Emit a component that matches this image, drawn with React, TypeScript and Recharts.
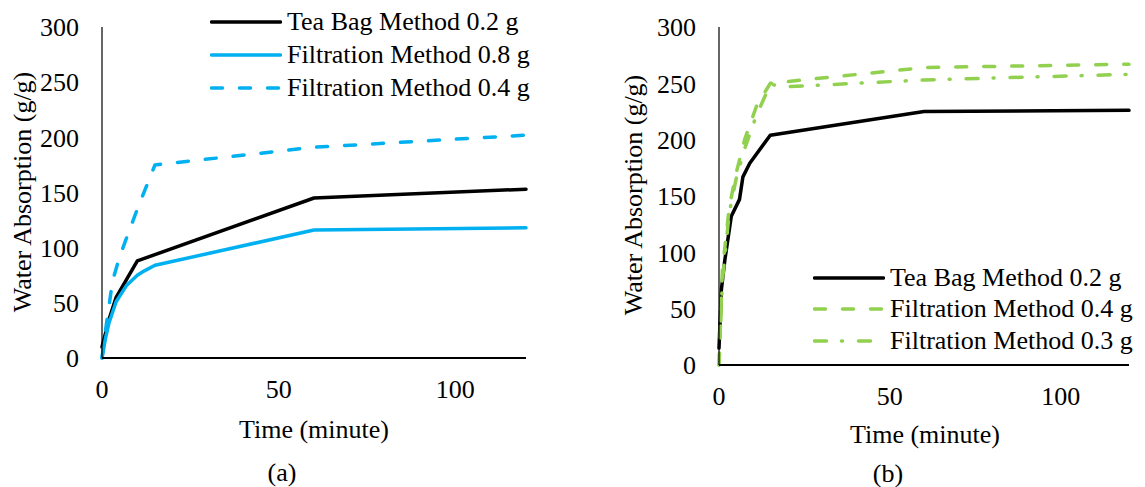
// Water absorption vs time: (a) tea bag vs filtration (blue), (b) tea bag vs filtration (green)
import React from 'react';
import { LineChart, Line, XAxis, YAxis } from 'recharts';

const FONT = "'Liberation Serif', 'Times New Roman', serif";

// ── chart (a) ──
const timeTeaA = [0, 2, 4, 10, 60, 120];
const teaA = [10, 35, 55, 88, 145, 153];
const timeFilt08A = [0, 1, 2, 4, 7, 10, 12, 15, 60, 120];
const filt08A = [0, 18, 32, 51, 66, 75, 79, 84, 116, 118];
const timeFilt04A = [0, 1, 3, 5, 10, 15, 60, 120];
const filt04A = [0, 25, 70, 92, 135, 175, 191, 202];

// ── chart (b) ──
const timeTeaB = [0, 0.7, 1.7, 3.6, 6, 7, 9, 15, 60, 120];
const teaB = [15, 67, 93, 132, 147, 167, 179, 204, 225, 226];
const timeFilt04B = [0, 1, 3, 5, 7.5, 11, 15, 60, 120];
const filt04B = [0, 85, 140, 170, 200, 230, 250, 264, 267];
const timeFilt03B = [0, 1, 3, 5, 7.5, 11, 15, 20, 60, 120];
const filt03B = [0, 75, 135, 165, 192, 222, 249, 247, 253, 258];

const xTicks = [0, 50, 100];
const yTicks = [0, 50, 100, 150, 200, 250, 300];

const zip = (xs: number[], ys: number[]) => xs.map((t, i) => ({ t, v: ys[i] }));

interface Series {
  name: string;
  color: string;
  dash?: string;
  data: { t: number; v: number }[];
}

const DASH = '11 17';
const DASH_DOT = '12 15 1 16';

const seriesA: Series[] = [
  { name: 'Tea Bag Method 0.2 g', color: '#000000', data: zip(timeTeaA, teaA) },
  { name: 'Filtration Method 0.8 g', color: '#00B0F0', data: zip(timeFilt08A, filt08A) },
  { name: 'Filtration Method 0.4 g', color: '#00B0F0', dash: DASH, data: zip(timeFilt04A, filt04A) },
];

const seriesB: Series[] = [
  { name: 'Tea Bag Method 0.2 g', color: '#000000', data: zip(timeTeaB, teaB) },
  { name: 'Filtration Method 0.4 g', color: '#92D050', dash: DASH, data: zip(timeFilt04B, filt04B) },
  { name: 'Filtration Method 0.3 g', color: '#92D050', dash: DASH_DOT, data: zip(timeFilt03B, filt03B) },
];

const tickStyle = { fill: '#000', fontSize: 26, fontFamily: FONT };

const LegendBox: React.FC<{ series: Series[]; left: number; top: number; rowH: number }> = ({ series, left, top, rowH }) => (
  <div style={{ position: 'absolute', left, top, fontFamily: FONT, fontSize: 26, color: '#000' }}>
    {series.map((s) => (
      <div key={s.name} style={{ display: 'flex', alignItems: 'center', height: rowH, whiteSpace: 'nowrap' }}>
        <svg width={72} height={10} style={{ marginRight: 5 }}>
          <line x1={1.5} y1={5} x2={70.5} y2={5} stroke={s.color} strokeWidth={3.5}
            strokeDasharray={s.dash} strokeLinecap="round" />
        </svg>
        <span>{s.name}</span>
      </div>
    ))}
  </div>
);

const Panel: React.FC<{ series: Series[]; width: number; margin: { top: number; right: number; bottom: number; left: number } }> = ({
  series,
  width,
  margin,
}) => (
  <LineChart width={width} height={487} margin={margin}>
    <XAxis
      type="number"
      dataKey="t"
      domain={[0, 120]}
      ticks={xTicks}
      allowDuplicatedCategory={false}
      tick={tickStyle}
      tickLine={false}
      tickSize={6}
      tickMargin={16}
      axisLine={{ stroke: '#000', strokeWidth: 2 }}
      height={60}
    />
    <YAxis
      type="number"
      domain={[0, 300]}
      ticks={yTicks}
      tick={tickStyle}
      tickLine={false}
      tickSize={6}
      tickMargin={17}
      axisLine={{ stroke: '#000', strokeWidth: 1.2 }}
      width={60}
    />
    {series.map((s) => (
      <Line
        key={s.name}
        data={s.data}
        dataKey="v"
        name={s.name}
        type="linear"
        stroke={s.color}
        strokeWidth={3.5}
        strokeDasharray={s.dash}
        strokeLinecap="round"
        strokeLinejoin="round"
        dot={false}
        activeDot={false}
        isAnimationActive={false}
      />
    ))}
  </LineChart>
);

const textAbs = (left: number, top: number, extra: React.CSSProperties = {}): React.CSSProperties => ({
  position: 'absolute',
  left,
  top,
  fontFamily: FONT,
  fontSize: 26,
  color: '#000',
  whiteSpace: 'nowrap',
  ...extra,
});

const App: React.FC = () => (
  <div style={{ position: 'absolute', left: 0, top: 0, width: 1145, height: 487, background: '#fff', overflow: 'hidden' }}>
    <div style={{ position: 'absolute', left: 0, top: 0 }}>
      <Panel series={seriesA} width={560} margin={{ top: 27, right: 34, bottom: 69, left: 42 }} />
    </div>
    <div style={{ position: 'absolute', left: 580, top: 0 }}>
      <Panel series={seriesB} width={565} margin={{ top: 27, right: 16, bottom: 62, left: 79 }} />
    </div>

    {/* axis titles */}
    <div style={textAbs(23, 192, { transform: 'translate(-50%, -50%) rotate(-90deg)' })}>Water Absorption (g/g)</div>
    <div style={textAbs(634, 195, { transform: 'translate(-50%, -50%) rotate(-90deg)' })}>Water Absorption (g/g)</div>
    <div style={textAbs(314, 430, { transform: 'translate(-50%, -50%)' })}>Time (minute)</div>
    <div style={textAbs(925, 435, { transform: 'translate(-50%, -50%)' })}>Time (minute)</div>
    <div style={textAbs(282, 473, { transform: 'translate(-50%, -50%)' })}>(a)</div>
    <div style={textAbs(888, 474, { transform: 'translate(-50%, -50%)' })}>(b)</div>

    <LegendBox series={seriesA} left={210} top={5} rowH={33.3} />
    <LegendBox series={seriesB} left={813} top={262} rowH={31.5} />
  </div>
);

export default App;
